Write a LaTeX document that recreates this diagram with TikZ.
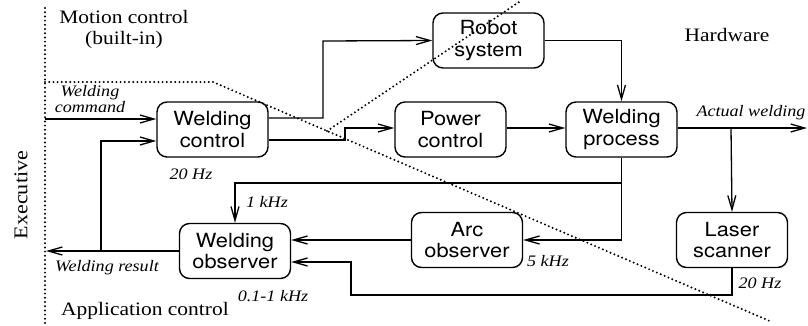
\documentclass[tikz,border=0pt]{standalone}
\usepackage{fontspec}
\usetikzlibrary{arrows.meta}
\newfontfamily\boxf{TeX Gyre Heros}[FakeStretch=1.12]
\newfontfamily\serf{Liberation Serif}[FakeStretch=1.13]
\tikzset{
  blk/.style={draw, rounded corners=10pt, line width=1.4pt, minimum width=111pt, minimum height=55pt,
    align=center, inner sep=0pt, font=\boxf\fontsize{19.5}{21.5}\selectfont},
  conn/.style={line width=1.3pt, -{Straight Barb[length=14pt,width=8pt,line width=1.3pt]}},
  lab/.style={font=\serf\itshape\fontsize{16}{14.5}\selectfont, inner sep=0pt, align=center},
  big/.style={font=\serf\fontsize{19}{16}\selectfont, inner sep=0pt, align=center},
  dots/.style={line width=2.2pt, dash pattern=on 0pt off 4.2pt, line cap=round}
}
\begin{document}
\begin{tikzpicture}[x=1pt,y=-1pt]
\useasboundingbox (0,0) rectangle (808,325);
% boundaries
\coordinate (v1) at (45,8);
\coordinate (v2) at (45,325);
\coordinate (h1) at (45,82);
\coordinate (h2) at (213,82);
\coordinate (d2) at (772,322);
\coordinate (m1) at (327,131);
\coordinate (m2) at (522,0);
\draw[dots] (v1) -- (v2);
\draw[dots] (h1) -- (h2) -- (d2);
\draw[dots] (m1) -- (m2);
% blocks
\node[blk] (wc) at (212.5,129.5) {Welding\\control};
\node[blk] (rs) at (488.5,40.5) {Robot\\system};
\node[blk] (pc) at (450.5,129.5) {Power\\control};
\node[blk] (wp) at (621.5,129.5) {Welding\\process};
\node[blk] (ao) at (467,240) {Arc\\observer};
\node[blk] (ls) at (732,240) {Laser\\scanner};
\node[blk] (wo) at (235,251) {Welding\\observer};
% helper coordinates
\coordinate (cmd) at (45,119);
\coordinate (fbj) at (101,251);
\coordinate (res) at (46,251);
\coordinate (out) at (807,128);
\coordinate (lsj) at (731,128);
\coordinate (kj) at (622,183);
% connectors
\draw[conn] (cmd) -- (wc.west |- cmd);
\draw[conn] (fbj) |- ([yshift=-11.5pt]wc.west);
\draw[conn] (wo.west) -- (res);
\draw[conn] ([yshift=11.5pt]wc.east) -| (323,41) -- (rs.west);
\draw[conn] ([yshift=-10.5pt]wc.east) -- (345,140) -- (345,128) -- (pc.west |- 0,128);
\draw[conn] (pc.east |- 0,128) -- (wp.west |- 0,128);
\draw[conn] (rs.east) -| (wp.north);
\draw[conn] (wp.east |- 0,128) -- (out);
\draw[conn] (lsj) -- (ls.north);
\draw[conn] (wp.south) |- (ao.east);
\draw[conn] (kj) -| (wo.north);
\draw[conn] (ao.west) -- (wo.east |- ao.west);
\draw[conn] (ls.south) |- (351,295) |- (wo.east |- 0,262);
% labels
\node[lab] at (90,99) {Welding\\command};
\node[lab] at (191,174) {20 Hz};
\node[lab] at (267,202) {1 kHz};
\node[lab] at (107,268) {Welding result};
\node[lab] at (273,296) {0.1-1 kHz};
\node[lab] at (548,261) {5 kHz};
\node[lab] at (760,283) {20 Hz};
\node[lab] at (751,113) {Actual welding};
\node[big, anchor=base] at (124,23) {Motion control};
\node[big, anchor=base] at (124,44.5) {(built-in)};
\node[big] at (727,35) {Hardware};
\node[big] at (145,311) {Application control};
\node[font=\serf\fontsize{19.5}{19.5}\selectfont, inner sep=0pt, rotate=90] at (21,195) {Executive};
\end{tikzpicture}
\end{document}
